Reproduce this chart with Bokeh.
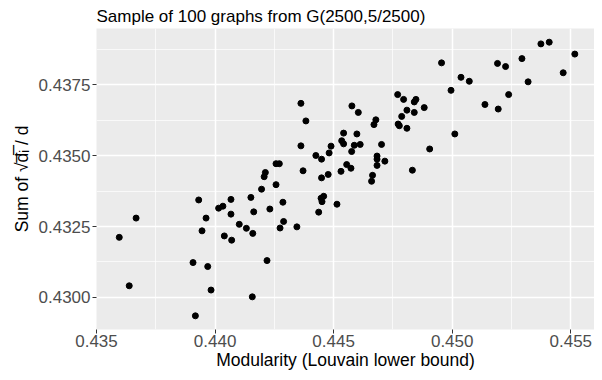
from bokeh.plotting import figure
from bokeh.models import Range1d, FixedTicker, Title
from bokeh.embed import file_html
from bokeh.resources import INLINE

# Data
modularity = [
    0.44362, 0.44383, 0.44362, 0.44489, 0.44481, 0.44425, 0.44449, 0.44257, 0.44271, 0.44577,
    0.44604, 0.44542, 0.44598, 0.44534, 0.44542, 0.44587, 0.44612, 0.44576, 0.44555, 0.44573,
    0.44678, 0.44670, 0.44702, 0.44683, 0.44683, 0.44716, 0.44683, 0.44770, 0.44795, 0.44840,
    0.44847, 0.44809, 0.44840, 0.44787, 0.44772, 0.44777, 0.44809, 0.44955, 0.45037, 0.45072,
    0.44995, 0.44882, 0.45011, 0.44905, 0.45191, 0.45225, 0.45294, 0.45374, 0.45409, 0.45517,
    0.45468, 0.45320, 0.45238, 0.45138, 0.45194, 0.44832, 0.43596, 0.43667, 0.43638, 0.43931,
    0.43962, 0.43945, 0.43907, 0.43969, 0.43983, 0.43917, 0.44015, 0.44033, 0.44067, 0.44067,
    0.44039, 0.44070, 0.44102, 0.44132, 0.44159, 0.44151, 0.44163, 0.44157, 0.44196, 0.44212,
    0.44207, 0.44371, 0.44257, 0.44449, 0.44477, 0.44531, 0.44664, 0.44660, 0.44231, 0.44286,
    0.44289, 0.44274, 0.44345, 0.44219, 0.44447, 0.44458, 0.44451, 0.44437, 0.44514,
]
sum_sqrt = [
    0.43685, 0.43623, 0.43535, 0.43534, 0.43510, 0.43501, 0.43488, 0.43472, 0.43472, 0.43676,
    0.43653, 0.43580, 0.43577, 0.43553, 0.43542, 0.43537, 0.43540, 0.43515, 0.43469, 0.43456,
    0.43627, 0.43610, 0.43540, 0.43499, 0.43488, 0.43481, 0.43466, 0.43716, 0.43699, 0.43690,
    0.43699, 0.43661, 0.43653, 0.43639, 0.43612, 0.43606, 0.43597, 0.43828, 0.43777, 0.43763,
    0.43731, 0.43670, 0.43577, 0.43524, 0.43826, 0.43815, 0.43843, 0.43895, 0.43901, 0.43859,
    0.43793, 0.43761, 0.43716, 0.43681, 0.43665, 0.43449, 0.43212, 0.43280, 0.43041, 0.43344,
    0.43280, 0.43235, 0.43123, 0.43109, 0.43026, 0.42935, 0.43315, 0.43322, 0.43346, 0.43294,
    0.43217, 0.43202, 0.43258, 0.43244, 0.43226, 0.43353, 0.43302, 0.43002, 0.43382, 0.43441,
    0.43426, 0.43447, 0.43398, 0.43422, 0.43434, 0.43445, 0.43431, 0.43410, 0.43312, 0.43336,
    0.43268, 0.43245, 0.43249, 0.43130, 0.43350, 0.43357, 0.43338, 0.43301, 0.43329,
]

x_ticks = [0.435, 0.440, 0.445, 0.450, 0.455]
x_tick_labels = ["0.435", "0.440", "0.445", "0.450", "0.455"]
x_minor = [0.4375, 0.4425, 0.4475, 0.4525]
y_ticks = [0.4300, 0.4325, 0.4350, 0.4375]
y_tick_labels = ["0.4300", "0.4325", "0.4350", "0.4375"]
y_minor = [0.42875, 0.43125, 0.43375, 0.43625, 0.43875]
x_limits = [0.4350, 0.4560]

title_text = "Sample of 100 graphs from G(2500,5/2500)"
x_title = "Modularity (Louvain lower bound)"
y_title = "Sum of \u221Ad\u0305\u1d62\u0305 / d"

def expand(vals, frac=0.05):
    lo, hi = min(vals), max(vals)
    pad = (hi - lo) * frac
    return lo - pad, hi + pad

FONT = "Liberation Sans"

p = figure(width=594, height=372, output_backend="svg", toolbar_location=None,
           x_range=Range1d(*x_limits), y_range=Range1d(*expand(sum_sqrt)),
           min_border_left=96, min_border_right=0, min_border_top=28, min_border_bottom=39)

p.title = Title(text=title_text, text_font=FONT, text_font_size="17px",
                text_font_style="normal", text_color="black", align="left", standoff=5)

p.background_fill_color = "#EBEBEB"
p.border_fill_color = "white"
p.outline_line_color = None

p.scatter(modularity, sum_sqrt, size=6, color="black")

for ax, ticks, minor, labels in [(p.xaxis[0], x_ticks, x_minor, x_tick_labels),
                                 (p.yaxis[0], y_ticks, y_minor, y_tick_labels)]:
    ax.ticker = FixedTicker(ticks=ticks, minor_ticks=minor)
    ax.major_label_overrides = {t: l for t, l in zip(ticks, labels)}
    ax.axis_line_color = None
    ax.major_tick_out = 4
    ax.major_tick_in = 0
    ax.major_tick_line_color = "#333333"
    ax.major_tick_line_width = 1
    ax.minor_tick_out = 0
    ax.minor_tick_in = 0
    ax.major_label_text_font = FONT
    ax.major_label_text_font_size = "17px"
    ax.major_label_text_color = "#4D4D4D"
    ax.major_label_standoff = 1
    ax.axis_label_text_font = FONT
    ax.axis_label_text_font_size = "17.5px"
    ax.axis_label_text_font_style = "normal"
    ax.axis_label_text_color = "black"
    ax.axis_label_standoff = 0

p.yaxis[0].axis_label_standoff = 4
p.yaxis[0].major_label_standoff = 2
p.xaxis.axis_label = x_title
p.yaxis.axis_label = y_title

for g in (p.xgrid[0], p.ygrid[0]):
    g.grid_line_color = "white"
    g.grid_line_width = 1.5
    g.minor_grid_line_color = "white"
    g.minor_grid_line_width = 0.7

p.xgrid[0].ticker = p.xaxis[0].ticker
p.ygrid[0].ticker = p.yaxis[0].ticker

open("out.html", "w").write(file_html(p, INLINE))
